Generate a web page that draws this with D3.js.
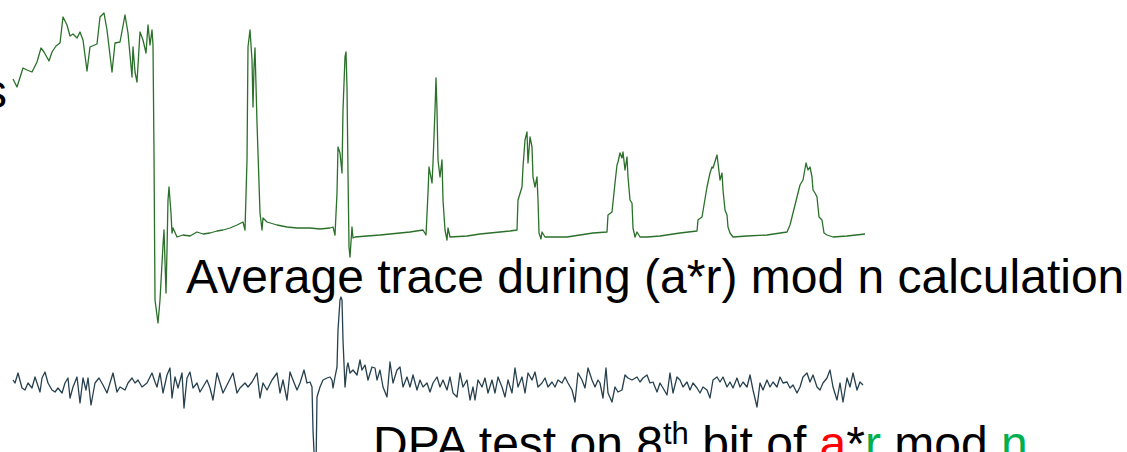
<!DOCTYPE html>
<html>
<head>
<meta charset="utf-8">
<script src="https://cdn.jsdelivr.net/npm/d3@7"></script>
<style>
  html, body { margin: 0; padding: 0; background: #fff; overflow: hidden; }
  #chart svg { display: block; }
  text { font-family: "Liberation Sans", Arial, sans-serif; }
</style>
</head>
<body>
<div id="chart"></div>
<script>
// Average power trace during (a*r) mod n : [time, level]
const avgTrace = [
  [1,158],[5,150],[11,169],[15,167],[20,165],[25,175],[29,189],[32,185],[37,176],[40,185],
  [44,191],[48,194],[51,220],[55,212],[58,201],[61,203],[65,199],[68,205],[71,197],[75,166],
  [78,190],[85,193],[88,220],[92,224],[95,207],[100,165],[103,194],[108,195],[113,222],[116,204],
  [120,160],[121,190],[123,165],[125,155],[128,205],[131,197],[134,184],[136,212],[138,192],[140,207],
  [141,192],[142,84],[143,-63],[146,-86],[148,-63],[151,-8],[152,7],[154,-56],[155,-13],[156,37],
  [157,50],[159,24],[160,4],[161,9],[165,0],[171,2],[178,1],[185,5],[191,3],[198,4],
  [205,6],[211,7],[218,9],[225,12],[231,15],[233,7],[235,77],[236,190],[238,207],[240,177],
  [241,130],[242,170],[243,189],[245,114],[248,24],[250,7],[251,19],[255,15],[265,12],[275,10],
  [285,9],[298,9],[308,8],[318,9],[321,10],[323,2],[325,44],[326,90],[328,84],[330,64],
  [331,127],[333,180],[334,185],[335,150],[336,64],[337,-10],[338,-20],[340,10],[341,-1],[343,0],
  [355,1],[368,2],[378,3],[388,4],[398,5],[411,7],[414,2],[416,44],[417,70],[420,54],
  [421,74],[423,127],[424,159],[425,127],[426,77],[428,60],[430,77],[431,37],[433,7],[435,-3],
  [436,9],[438,0],[455,1],[468,3],[478,4],[488,5],[498,6],[505,7],[506,37],[510,50],
  [511,70],[513,97],[515,105],[516,74],[518,100],[520,90],[521,60],[523,50],[525,60],[526,37],
  [527,4],[529,-2],[530,5],[533,0],[544,0],[555,0],[568,2],[581,4],[595,5],[596,22],
  [600,25],[603,54],[605,72],[606,75],[608,84],[610,79],[611,85],[613,67],[615,80],[616,60],
  [618,37],[620,34],[621,9],[623,0],[625,5],[628,0],[635,0],[648,1],[668,4],[685,6],
  [686,17],[690,20],[695,50],[698,64],[700,70],[701,69],[705,82],[706,74],[708,57],[710,64],
  [711,47],[713,27],[715,22],[716,10],[718,4],[721,0],[735,1],[755,2],[775,5],[778,12],
  [781,24],[785,40],[788,52],[791,57],[794,74],[796,67],[798,70],[800,60],[801,47],[803,44],
  [805,40],[807,20],[810,17],[812,4],[815,2],[821,0],[835,1],[853,3]
];

// DPA differential trace, 8th bit of a*r mod n : [time, diff]
const dpaTrace = [
  [1,3],[3,0],[6,10],[10,-5],[13,-7],[16,0],[20,-5],[23,6],[25,0],[28,-9],
  [30,5],[33,11],[36,0],[40,-7],[43,-9],[46,-5],[50,-10],[53,0],[56,5],[58,-15],
  [61,-4],[65,6],[68,-20],[71,5],[74,-7],[76,5],[79,-22],[83,0],[87,5],[91,-2],
  [95,-10],[98,0],[101,10],[105,-9],[108,-4],[113,-7],[116,0],[120,5],[123,0],[126,3],
  [130,-4],[135,0],[140,10],[143,1],[145,-4],[148,10],[151,-10],[155,8],[158,15],[160,-15],
  [163,6],[166,-5],[170,10],[172,-25],[175,5],[178,11],[181,-5],[185,0],[188,-9],[191,-4],
  [195,3],[198,-5],[201,-17],[205,10],[208,0],[211,-10],[216,0],[221,10],[225,-10],[228,-5],
  [233,0],[236,-4],[240,1],[245,10],[248,-15],[251,0],[255,-7],[260,3],[265,10],[268,-10],
  [271,3],[275,-17],[278,11],[281,3],[285,-7],[288,0],[292,13],[295,0],[298,1],[300,-4],
  [301,-47],[303,-90],[304,-85],[305,-14],[308,-4],[311,3],[315,5],[318,6],[320,3],[321,-5],
  [323,6],[325,16],[326,53],[328,83],[329,86],[330,83],[331,43],[333,-4],[335,16],[336,20],
  [338,10],[341,13],[345,8],[348,23],[350,13],[353,18],[356,3],[360,16],[363,15],[365,3],
  [368,13],[371,-4],[375,-14],[378,21],[381,0],[385,13],[388,16],[391,-4],[395,6],[398,-4],
  [401,8],[405,-7],[408,3],[411,-4],[415,0],[418,-9],[421,0],[425,6],[428,-4],[431,3],
  [435,-7],[438,6],[441,-10],[445,-14],[448,10],[451,-4],[455,3],[458,-17],[461,-4],[463,-17],
  [466,3],[470,-4],[473,5],[476,-10],[480,3],[483,-10],[486,6],[490,-4],[493,-14],[496,3],
  [500,-10],[503,15],[506,-4],[510,6],[513,-10],[516,10],[520,3],[523,11],[526,-4],[530,0],
  [533,5],[536,-4],[540,1],[543,-4],[546,3],[550,0],[553,6],[556,0],[560,-7],[563,-19],
  [566,10],[570,3],[573,-5],[576,15],[580,3],[583,-4],[586,3],[588,0],[591,-15],[594,15],
  [596,-10],[600,-19],[603,-4],[606,-9],[610,-7],[613,8],[616,5],[620,3],[625,6],[628,1],
  [631,5],[635,8],[638,0],[641,1],[645,-9],[648,0],[651,-5],[655,-12],[658,10],[661,-10],
  [665,6],[668,3],[671,-4],[675,1],[678,-7],[681,0],[685,-5],[688,-10],[691,-4],[695,-7],
  [698,-15],[701,3],[705,6],[708,1],[711,6],[715,-4],[718,1],[721,-5],[725,5],[728,-4],
  [731,1],[735,-4],[738,8],[741,-7],[745,-24],[748,0],[751,-7],[755,3],[758,-4],[761,1],
  [765,-4],[768,6],[771,0],[775,1],[778,-5],[781,-2],[785,-10],[788,-4],[791,6],[795,10],
  [798,1],[801,8],[805,-4],[808,-7],[811,0],[815,5],[818,13],[821,-4],[825,-17],[828,0],
  [831,-19],[835,5],[838,-4],[841,10],[845,-7],[848,1],[851,-2]
];

// Labels
const avgLabel = "Average trace during (a*r) mod n calculation";
const dpaLabel = [
  { t: "DPA test on 8", c: "#000000" },
  { t: "th", c: "#000000", sup: true },
  { t: " bit of ", c: "#000000" },
  { t: "a", c: "#ff0000" },
  { t: "*", c: "#000000" },
  { t: "r", c: "#00b050" },
  { t: " mod ", c: "#000000" },
  { t: "n", c: "#00b050" }
];

document.addEventListener('DOMContentLoaded', function() {
    const width = 1127;
    const height = 452;

    const svg = d3.select("#chart")
        .append("svg")
        .attr("width", width)
        .attr("height", height);

    // Echelles communes en temps
    const x = d3.scaleLinear().domain([0, 853]).range([12, 865]);
    const yAvg = d3.scaleLinear().domain([0, 225]).range([237, 12]);
    const yDpa = d3.scaleLinear().domain([0, 100]).range([383, 283]);

    const lineAvg = d3.line().x(d => x(d[0])).y(d => yAvg(d[1]));
    const lineDpa = d3.line().x(d => x(d[0])).y(d => yDpa(d[1]));

    // Texte coupé à gauche
    svg.append("text")
        .attr("x", -17)
        .attr("y", 108)
        .attr("font-size", 48)
        .attr("fill", "#000")
        .text("s");

    svg.append("path")
        .datum(avgTrace)
        .attr("fill", "none")
        .attr("stroke", "#2a702a")
        .attr("stroke-width", 1.3)
        .attr("stroke-linejoin", "round")
        .attr("d", lineAvg);

    svg.append("text")
        .attr("x", 186)
        .attr("y", 293)
        .attr("font-size", 48)
        .attr("fill", "#000")
        .text(avgLabel);

    svg.append("path")
        .datum(dpaTrace)
        .attr("fill", "none")
        .attr("stroke", "#27404e")
        .attr("stroke-width", 1.3)
        .attr("stroke-linejoin", "round")
        .attr("d", lineDpa);

    const dpa = svg.append("text")
        .attr("x", 373)
        .attr("y", 460)
        .attr("font-size", 48)
        .attr("fill", "#000");

    dpaLabel.forEach(function(p) {
        const ts = dpa.append("tspan")
            .attr("fill", p.c)
            .text(p.t);
        if (p.sup) {
            ts.attr("font-size", 31).attr("dy", -16);
        } else if (p.t === " bit of ") {
            ts.attr("dy", 16);
        }
    });
});
</script>
</body>
</html>
